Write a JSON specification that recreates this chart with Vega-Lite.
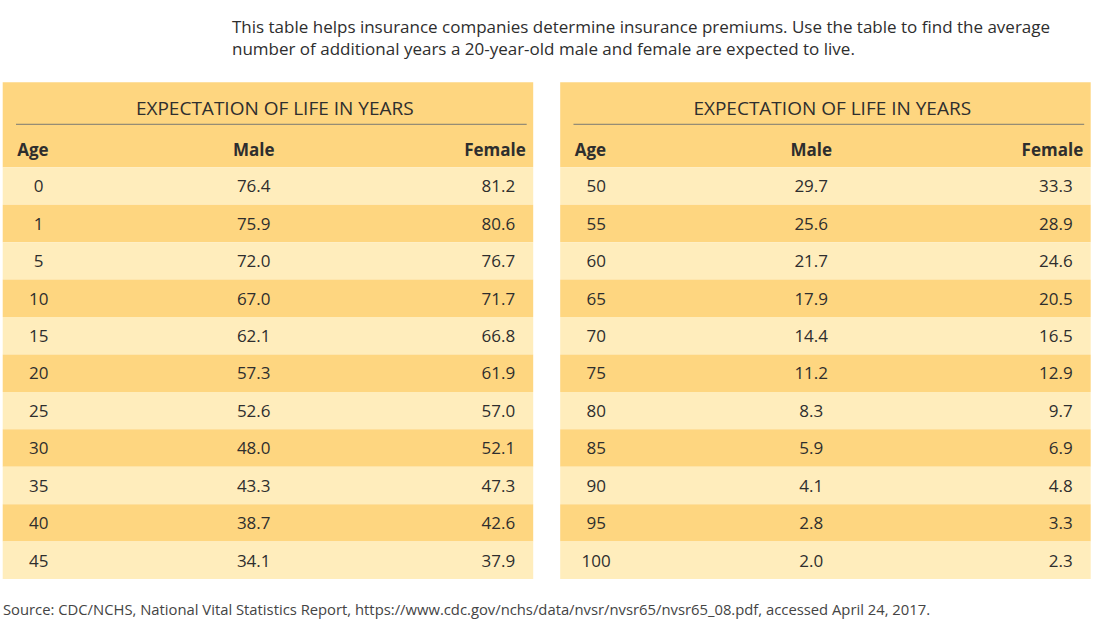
{
  "$schema": "https://vega.github.io/schema/vega-lite/v6.json",
  "width": 1094,
  "height": 630,
  "autosize": {"type": "none"},
  "padding": 0,
  "background": "white",
  "config": {"view": {"stroke": null}, "font": "Open Sans", "text": {"color": "#2e2e2e"}},
  "datasets": {
    "rows": [
      {"panel": "L", "row": 0, "age": 0, "male": 76.4, "female": 81.2},
      {"panel": "L", "row": 1, "age": 1, "male": 75.9, "female": 80.6},
      {"panel": "L", "row": 2, "age": 5, "male": 72.0, "female": 76.7},
      {"panel": "L", "row": 3, "age": 10, "male": 67.0, "female": 71.7},
      {"panel": "L", "row": 4, "age": 15, "male": 62.1, "female": 66.8},
      {"panel": "L", "row": 5, "age": 20, "male": 57.3, "female": 61.9},
      {"panel": "L", "row": 6, "age": 25, "male": 52.6, "female": 57.0},
      {"panel": "L", "row": 7, "age": 30, "male": 48.0, "female": 52.1},
      {"panel": "L", "row": 8, "age": 35, "male": 43.3, "female": 47.3},
      {"panel": "L", "row": 9, "age": 40, "male": 38.7, "female": 42.6},
      {"panel": "L", "row": 10, "age": 45, "male": 34.1, "female": 37.9},
      {"panel": "R", "row": 0, "age": 50, "male": 29.7, "female": 33.3},
      {"panel": "R", "row": 1, "age": 55, "male": 25.6, "female": 28.9},
      {"panel": "R", "row": 2, "age": 60, "male": 21.7, "female": 24.6},
      {"panel": "R", "row": 3, "age": 65, "male": 17.9, "female": 20.5},
      {"panel": "R", "row": 4, "age": 70, "male": 14.4, "female": 16.5},
      {"panel": "R", "row": 5, "age": 75, "male": 11.2, "female": 12.9},
      {"panel": "R", "row": 6, "age": 80, "male": 8.3, "female": 9.7},
      {"panel": "R", "row": 7, "age": 85, "male": 5.9, "female": 6.9},
      {"panel": "R", "row": 8, "age": 90, "male": 4.1, "female": 4.8},
      {"panel": "R", "row": 9, "age": 95, "male": 2.8, "female": 3.3},
      {"panel": "R", "row": 10, "age": 100, "male": 2.0, "female": 2.3}
    ],
    "panels": [{"panel": "L"}, {"panel": "R"}],
    "notes": [
      {"kind": "intro", "text": "This table helps insurance companies determine insurance premiums. Use the table to find the average\nnumber of additional years a 20-year-old male and female are expected to live."}
    ],
    "source": [
      {"text": "Source: CDC/NCHS, National Vital Statistics Report, https://www.cdc.gov/nchs/data/nvsr/nvsr65/nvsr65_08.pdf, accessed April 24, 2017."}
    ]
  },
  "encoding": {
    "x": {"field": "panel", "type": "nominal", "axis": null, "scale": {"domain": ["L", "R"], "range": [2.7, 1090.7], "paddingInner": 0.0484, "paddingOuter": 0}}
  },
  "layer": [
    {
      "data": {"name": "panels"},
      "mark": {"type": "rect", "color": "#FED680"},
      "encoding": {
        "y": {"datum": -2.271, "type": "quantitative", "axis": null, "scale": {"domain": [-4.4697, 12.3617], "range": [0, 630], "zero": false, "nice": false}},
        "y2": {"datum": 0}
      }
    },
    {
      "data": {"name": "rows"},
      "mark": {"type": "rect", "y2Offset": 37.43},
      "encoding": {
        "y": {"field": "row", "type": "quantitative"},
        "y2": {"field": "row"},
        "color": {"condition": {"test": "datum.row % 2 === 1", "value": "#FED680"}, "value": "#FFEDBC"}
      }
    },
    {
      "data": {"name": "panels"},
      "mark": {"type": "rule", "color": "#7a7a72", "strokeWidth": 1, "xOffset": 13.3, "x2Offset": -6.5},
      "encoding": {
        "x": {"field": "panel", "type": "nominal", "bandPosition": 0},
        "x2": {"field": "panel", "bandPosition": 1},
        "y": {"datum": -1.149, "type": "quantitative"}
      }
    },
    {
      "data": {"name": "panels"},
      "mark": {"type": "text", "fontSize": 19, "baseline": "middle", "align": "center", "dx": 6.8, "dy": 1.5},
      "encoding": {
        "y": {"datum": -1.598, "type": "quantitative"},
        "text": {"value": "EXPECTATION OF LIFE IN YEARS"}
      }
    },
    {
      "data": {"name": "panels"},
      "mark": {"type": "text", "fontSize": 17, "fontWeight": "bold", "baseline": "middle", "align": "left", "dx": -250.75, "dy": 1},
      "encoding": {"y": {"datum": -0.462, "type": "quantitative"}, "text": {"value": "Age"}}
    },
    {
      "data": {"name": "panels"},
      "mark": {"type": "text", "fontSize": 17, "fontWeight": "bold", "baseline": "middle", "align": "center", "dx": -14.25, "dy": 1},
      "encoding": {"y": {"datum": -0.462, "type": "quantitative"}, "text": {"value": "Male"}}
    },
    {
      "data": {"name": "panels"},
      "mark": {"type": "text", "fontSize": 17, "fontWeight": "bold", "baseline": "middle", "align": "right", "dx": 257.75, "dy": 1},
      "encoding": {"y": {"datum": -0.462, "type": "quantitative"}, "text": {"value": "Female"}}
    },
    {
      "data": {"name": "rows"},
      "mark": {"type": "text", "fontSize": 17, "baseline": "middle", "align": "center", "dx": -229.25, "dy": 20},
      "encoding": {"y": {"field": "row", "type": "quantitative"}, "text": {"field": "age", "type": "quantitative", "format": "d"}}
    },
    {
      "data": {"name": "rows"},
      "mark": {"type": "text", "fontSize": 17, "baseline": "middle", "align": "center", "dx": -14.25, "dy": 20},
      "encoding": {"y": {"field": "row", "type": "quantitative"}, "text": {"field": "male", "type": "quantitative", "format": ".1f"}}
    },
    {
      "data": {"name": "rows"},
      "mark": {"type": "text", "fontSize": 17, "baseline": "middle", "align": "right", "dx": 247.25, "dy": 20},
      "encoding": {"y": {"field": "row", "type": "quantitative"}, "text": {"field": "female", "type": "quantitative", "format": ".1f"}}
    },
    {
      "data": {"name": "notes"},
      "mark": {"type": "text", "fontSize": 17, "baseline": "top", "align": "left", "dx": -36, "dy": 0.5, "lineBreak": "\n", "lineHeight": 22},
      "encoding": {"x": {"datum": "L"}, "y": {"datum": -3.962, "type": "quantitative"}, "text": {"field": "text"}}
    },
    {
      "data": {"name": "source"},
      "mark": {"type": "text", "fontSize": 14.8, "baseline": "middle", "align": "left", "dx": -265, "dy": 1.5, "color": "#444444"},
      "encoding": {"x": {"datum": "L"}, "y": {"datum": 11.801, "type": "quantitative"}, "text": {"field": "text"}}
    }
  ]
}
